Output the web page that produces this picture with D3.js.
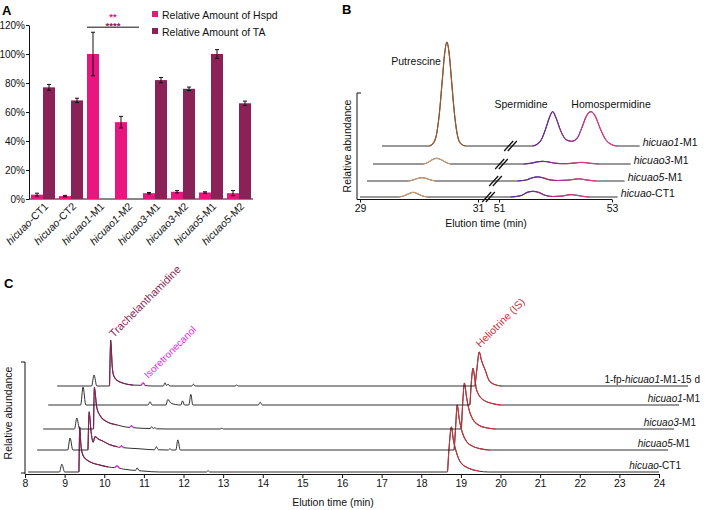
<!DOCTYPE html>
<html>
<head>
<meta charset="utf-8">
<script src="https://cdn.jsdelivr.net/npm/d3@7"></script>
<style>
  body { margin: 0; background: #fff; }
  svg { display: block; }
</style>
</head>
<body>
<svg id="fig" width="709" height="510"></svg>
<script>
// ---------- panel A data ----------
const aGroups = ["hicuao-CT1", "hicuao-CT2", "hicuao1-M1", "hicuao1-M2", "hicuao3-M1", "hicuao3-M2", "hicuao5-M1", "hicuao5-M2"];
const aSeries = ["Relative Amount of Hspd", "Relative Amount of TA"];
const hspdMean = [3, 2, 100, 53, 4, 5, 4.5, 4];
const hspdErr = [1, 0.5, 15, 4, 0.5, 0.8, 0.5, 1.8];
const taMean = [77, 68, 0, 0, 82, 76, 100, 66];
const taErr = [2, 1.5, 0, 0, 1.8, 1.2, 3, 1.5];
const aTicks = [0, 20, 40, 60, 80, 100, 120];

// ---------- panel B data (time in min, relative abundance %) ----------
const bSamples = ["hicuao-CT1", "hicuao5-M1", "hicuao3-M1", "hicuao1-M1"];
const bTicks = [29, 31, 51, 53];
const bCT1 = [[29,0],[29.65,0],[29.74,1],[29.82,3],[29.9,4.5],[29.98,3],[30.06,1],[30.15,0],[51.2,0],[51.4,1.5],[51.5,4.5],[51.6,5.5],[51.7,4.5],[51.82,1.5],[51.95,0.5],[52.1,0.8],[52.2,1.8],[52.28,2.2],[52.36,1.8],[52.46,0.8],[52.6,0],[53.1,0]];
const bM5 = [[29,0],[29.7,0],[29.78,1],[29.86,2.5],[29.93,3.2],[30.0,2.5],[30.08,1],[30.17,0],[51.2,0],[51.36,1],[51.46,3],[51.56,4],[51.66,3],[51.78,1],[51.92,0.5],[52.1,0.8],[52.2,1.6],[52.28,2],[52.36,1.6],[52.46,0.8],[52.6,0],[53.1,0]];
const bM3 = [[29,0],[29.85,0],[29.93,1.5],[30.0,4],[30.08,5.5],[30.16,4],[30.24,1.5],[30.32,0],[51.2,0],[51.34,0.8],[51.44,2],[51.54,2.6],[51.64,2],[51.76,0.8],[51.92,0.3],[52.08,0.8],[52.16,1.3],[52.22,1.5],[52.3,1.3],[52.4,0.6],[52.55,0],[53.1,0]];
const bM1 = [[29,0],[29.8,0],[29.86,2],[29.92,10],[29.97,30],[30.02,62],[30.06,88],[30.1,100],[30.14,88],[30.18,62],[30.23,30],[30.28,10],[30.34,2],[30.42,0],[51.2,0],[51.28,1.5],[51.36,6],[51.44,17],[51.5,27],[51.56,33],[51.62,27],[51.7,15],[51.8,6],[51.9,4.5],[52.0,8],[52.08,18],[52.16,29],[52.24,33],[52.32,28],[52.4,17],[52.5,6],[52.6,1.5],[52.7,0],[53.1,0]];
const bTraces = [bCT1, bM5, bM3, bM1];
const bPutrescine = [29.5, 30.7];
const bPolyamines = [51.1, 52.8];

// ---------- panel C data (time in min, relative abundance %) ----------
const cSamples = ["hicuao-CT1", "hicuao5-M1", "hicuao3-M1", "hicuao1-M1", "1-fp-hicuao1-M1-15 d"];
const cTicks = d3.range(8, 25);
const cCT1 = [[8.08,0],[8.87,0],[8.93,17],[9.0,0],[9.36,0],[9.38,98],[9.41,60],[9.46,37],[9.55,27],[9.64,22],[9.89,15],[10.1,11],[10.26,9.5],[10.32,13],[10.38,8.5],[10.6,5],[10.79,3.5],[10.83,9],[10.88,3],[11.0,2],[11.4,0],[12.58,0],[12.62,3],[12.66,0],[18.66,0],[18.7,50],[18.76,98],[18.81,70],[18.88,45],[19.0,20],[19.2,8],[19.45,2],[19.7,0],[24,0]];
const cM5 = [[8.08,0],[8.85,0],[8.91,26],[8.98,0],[9.36,0],[9.39,83],[9.44,40],[9.49,17],[9.54,29],[9.62,24],[9.72,20],[9.9,12],[10.1,7],[10.16,5.5],[10.21,9],[10.26,5],[10.6,3],[10.9,1],[11.04,0.5],[11.09,7],[11.14,0.5],[11.39,0],[11.43,3],[11.47,0],[11.58,0],[11.63,22],[11.69,0],[18.6,0],[18.64,50],[18.68,98],[18.73,68],[18.81,38],[18.92,18],[19.05,9],[19.25,3],[19.5,0],[24,0]];
const cM3 = [[8.08,0],[8.87,0],[8.93,24],[9.0,0],[9.35,0],[9.37,91],[9.43,48],[9.51,30],[9.68,16],[9.94,9],[10.19,4],[10.26,3.5],[10.31,7],[10.36,3],[10.6,1.5],[10.78,1],[10.82,5],[10.86,1],[10.9,3],[10.94,0.5],[11.2,0],[12.55,0],[12.59,2],[12.63,0],[18.63,0],[18.67,60],[18.71,100],[18.76,72],[18.81,48],[18.93,20],[19.1,7],[19.3,2],[19.5,0],[24,0]];
const cM1 = [[8.08,0],[8.9,0],[8.96,39],[9.03,0],[10.6,0],[10.65,7],[10.7,0],[11.05,0],[11.1,12],[11.18,4],[11.3,1],[11.43,0],[11.47,9],[11.52,0],[11.63,0],[11.68,23],[11.73,0],[13.38,0],[13.43,6],[13.48,0],[18.72,0],[18.76,50],[18.8,80],[18.85,55],[18.89,33],[19.06,11],[19.3,3],[19.5,0],[24,0]];
const cFP = [[8.08,0],[8.95,0],[9.01,24],[9.08,0],[9.4,0],[9.43,100],[9.47,42],[9.5,24],[9.58,13],[9.75,6],[10.0,2],[10.2,1.5],[10.25,7],[10.3,1],[10.5,0],[10.76,0],[10.8,7],[10.84,1],[10.88,4],[10.92,0],[11.48,0],[11.52,4],[11.56,0],[12.57,0],[12.61,2],[12.65,0],[18.62,0],[18.67,35],[18.73,74],[18.79,55],[18.88,35],[18.98,12],[19.1,4],[19.3,0],[24,0]];
const cTraces = [cCT1, cM5, cM3, cM1, cFP];
const cTrachel = [9.3, 10.15];
const cIsoTimes = [10.32, 10.21, 10.31, null, 10.25];
const cHelio = [18.55, 19.5];

// ---------- styling ----------
const FONT = "'Liberation Sans', Arial, Helvetica, sans-serif";
const PINK = "#e8167f", PLUM = "#8a2258";
const TA_COL = "#8c1f55", ISO_COL = "#e22de0", HELIO_COL = "#c8343c";
const BROWN = "#9a5a2c", TAN = "#cf9c72", PURPLE = "#6b2b90", MAGENTA = "#dd3a8c";

const svg = d3.select("#fig").attr("font-family", FONT);

function italicize(sel, str) {
    str.split(/(hicuao\d?)/).filter(s => s.length).forEach(part => {
        sel.append("tspan")
            .attr("font-style", /^hicuao/.test(part) ? "italic" : null)
            .text(part);
    });
}

function styleAxis(g, size) {
    g.attr("font-family", FONT).attr("font-size", size || 10.5);
    g.selectAll("text").attr("fill", "#111");
    g.selectAll("line, path").attr("stroke", "#111");
}

// ===================== PANEL A =====================
const gA = svg.append("g");
const xA = d3.scaleBand().domain(aGroups).range([29, 253]);
const xSub = d3.scaleBand().domain(aSeries).range([2, 26]);
const yA = d3.scaleLinear().domain([0, 120]).range([199, 25]);

gA.append("text").attr("x", 2).attr("y", 15).attr("font-size", 13).attr("font-weight", "bold").text("A");

gA.append("g").attr("transform", "translate(29,0)")
    .call(d3.axisLeft(yA).tickValues(aTicks).tickSize(3).tickSizeOuter(0).tickPadding(1).tickFormat(d => d + "%"))
    .call(g => styleAxis(g, 10));

gA.append("line").attr("x1", 29).attr("x2", 253).attr("y1", yA(0)).attr("y2", yA(0))
    .attr("stroke", "#111");

const aRows = [];
aGroups.forEach((g, i) => {
    aRows.push({ g, s: aSeries[0], v: hspdMean[i], e: hspdErr[i], c: PINK });
    aRows.push({ g, s: aSeries[1], v: taMean[i], e: taErr[i], c: PLUM });
});
const aBars = aRows.filter(d => d.v > 0);

gA.selectAll("rect.bar").data(aBars).enter().append("rect")
    .attr("class", "bar")
    .attr("x", d => xA(d.g) + xSub(d.s))
    .attr("width", xSub.bandwidth())
    .attr("y", d => yA(d.v))
    .attr("height", d => yA(0) - yA(d.v))
    .attr("fill", d => d.c);

const errG = gA.selectAll("g.err").data(aBars).enter().append("g").attr("class", "err")
    .attr("stroke", "#111").attr("stroke-width", 1);
errG.append("line")
    .attr("x1", d => xA(d.g) + xSub(d.s) + xSub.bandwidth() / 2)
    .attr("x2", d => xA(d.g) + xSub(d.s) + xSub.bandwidth() / 2)
    .attr("y1", d => yA(d.v + d.e)).attr("y2", d => yA(Math.max(0, d.v - d.e)));
[1, -1].forEach(sign => {
    errG.append("line")
        .attr("x1", d => xA(d.g) + xSub(d.s) + xSub.bandwidth() / 2 - 2)
        .attr("x2", d => xA(d.g) + xSub(d.s) + xSub.bandwidth() / 2 + 2)
        .attr("y1", d => yA(Math.max(0, d.v + sign * d.e)))
        .attr("y2", d => yA(Math.max(0, d.v + sign * d.e)));
});

// x labels
aGroups.forEach(g => {
    const t = gA.append("text")
        .attr("transform", `translate(${xA(g) + xA.bandwidth() / 2 + 6},207) rotate(-45)`)
        .attr("text-anchor", "end").attr("font-size", 10.5).attr("fill", "#111");
    italicize(t, g);
});

// significance
const sigX1 = xA("hicuao1-M1") + xSub(aSeries[0]);
const sigX2 = xA("hicuao1-M2") + xSub(aSeries[1]) + xSub.bandwidth();
gA.append("line").attr("x1", sigX1).attr("x2", sigX2).attr("y1", yA(118.5)).attr("y2", yA(118.5))
    .attr("stroke", "#111");
gA.append("text").attr("x", (sigX1 + sigX2) / 2).attr("y", 19.5).attr("text-anchor", "middle")
    .attr("font-size", 9.5).attr("font-weight", "bold").attr("fill", PINK).text("**");
gA.append("text").attr("x", (sigX1 + sigX2) / 2).attr("y", 28.5).attr("text-anchor", "middle")
    .attr("font-size", 9.5).attr("font-weight", "bold").attr("fill", PLUM).text("****");

// legend
aSeries.forEach((s, i) => {
    gA.append("rect").attr("x", 152).attr("y", 11 + i * 17).attr("width", 6).attr("height", 6)
        .attr("fill", i === 0 ? PINK : PLUM);
    gA.append("text").attr("x", 162).attr("y", 18.5 + i * 17).attr("font-size", 10.5)
        .attr("fill", "#111").text(s);
});

// ===================== PANEL B =====================
const gB = svg.append("g");
const xB = d3.scaleLinear().domain(bTicks).range([360, 478, 499, 612]);
const yB = d3.scaleLinear().domain([0, 100]).range([0, 104]);
const bDx = [0, 7, 13, 22];
const bBase = [197, 181, 164, 146];

gB.append("text").attr("x", 342).attr("y", 14).attr("font-size", 13).attr("font-weight", "bold").text("B");

const defs = svg.append("defs");

bTraces.forEach((pts, i) => {
    const line = d3.line().curve(d3.curveMonotoneX)
        .x(d => xB(d[0]) + bDx[i])
        .y(d => bBase[i] - yB(d[1]));
    gB.append("path").attr("d", line(pts)).attr("fill", "none").attr("stroke", "#333").attr("stroke-width", 1);
    const put = pts.filter(d => d[0] >= bPutrescine[0] && d[0] <= bPutrescine[1]);
    gB.append("path").attr("d", line(put)).attr("fill", "none")
        .attr("stroke", i === 3 ? BROWN : TAN).attr("stroke-width", 1.2);
    const grad = defs.append("linearGradient").attr("id", "pg" + i)
        .attr("gradientUnits", "userSpaceOnUse")
        .attr("x1", xB(51.5) + bDx[i]).attr("x2", xB(52.3) + bDx[i]).attr("y1", 0).attr("y2", 0);
    grad.append("stop").attr("offset", "0%").attr("stop-color", PURPLE);
    grad.append("stop").attr("offset", "100%").attr("stop-color", MAGENTA);
    const poly = pts.filter(d => d[0] >= bPolyamines[0] && d[0] <= bPolyamines[1]);
    gB.append("path").attr("d", line(poly)).attr("fill", "none")
        .attr("stroke", `url(#pg${i})`).attr("stroke-width", 1.2);

    // axis break marks
    const bx = xB(41) + bDx[i], by = bBase[i];
    [-1.8, 1.8].forEach(o => {
        gB.append("line").attr("x1", bx + o - 4.5).attr("y1", by + 5).attr("x2", bx + o + 4.5).attr("y2", by - 5)
            .attr("stroke", "#111").attr("stroke-width", 1.3);
    });

    const last = pts[pts.length - 1];
    const t = gB.append("text").attr("x", xB(last[0]) + bDx[i] + 3).attr("y", bBase[i] - 0.5)
        .attr("font-size", 10.5).attr("fill", "#111");
    italicize(t, bSamples[i]);
});

// peak labels
const putTop = bM1.reduce((a, b) => (b[1] > a[1] ? b : a));
gB.append("text").attr("x", xB(putTop[0]) + bDx[3] - 6).attr("y", bBase[3] - yB(putTop[1]) + 23)
    .attr("text-anchor", "end").attr("font-size", 10.5).attr("fill", "#111").text("Putrescine");
const spd = bM1.filter(d => d[0] > 51 && d[0] < 51.9).reduce((a, b) => (b[1] > a[1] ? b : a));
gB.append("text").attr("x", xB(spd[0]) + bDx[3] - 5).attr("y", bBase[3] - yB(spd[1]) - 4)
    .attr("text-anchor", "end").attr("font-size", 10.5).attr("fill", "#111").text("Spermidine");
const hspd = bM1.filter(d => d[0] > 51.9).reduce((a, b) => (b[1] > a[1] ? b : a));
gB.append("text").attr("x", xB(hspd[0]) + bDx[3] + 20).attr("y", bBase[3] - yB(hspd[1]) - 4)
    .attr("text-anchor", "middle").attr("font-size", 10.5).attr("fill", "#111").text("Homospermidine");

// axes
gB.append("line").attr("x1", 357).attr("x2", 357).attr("y1", 93).attr("y2", 199.5).attr("stroke", "#111");
gB.append("line").attr("x1", 357).attr("x2", 361).attr("y1", 93).attr("y2", 93).attr("stroke", "#111");
gB.append("g").attr("transform", "translate(0,199.5)")
    .call(d3.axisBottom(xB).tickValues(bTicks).tickSize(3).tickSizeOuter(0).tickPadding(2))
    .call(g => styleAxis(g, 10.5))
    .call(g => g.select(".domain").remove());
gB.append("line").attr("x1", 357).attr("x2", xB(53)).attr("y1", 199.5).attr("y2", 199.5).attr("stroke", "#111");
gB.append("text").attr("transform", "translate(351,146) rotate(-90)").attr("text-anchor", "middle")
    .attr("font-size", 10.5).attr("fill", "#111").text("Relative abundance");
gB.append("text").attr("x", (xB(29) + xB(53)) / 2).attr("y", 227).attr("text-anchor", "middle")
    .attr("font-size", 10.5).attr("fill", "#111").text("Elution time (min)");

// ===================== PANEL C =====================
const gC = svg.append("g");
const xC = d3.scaleLinear().domain([8, 24]).range([25, 659]);
const yC = d3.scaleLinear().domain([0, 100]).range([0, 46]);
const cDx = [0, 9, 15, 20, 29];
const cBase = [472, 450, 429, 405, 386];

gC.append("text").attr("x", 4).attr("y", 288).attr("font-size", 13).attr("font-weight", "bold").text("C");

cTraces.forEach((pts, i) => {
    const line = d3.line().curve(d3.curveMonotoneX)
        .x(d => xC(d[0]) + cDx[i])
        .y(d => cBase[i] - yC(d[1]));
    gC.append("path").attr("d", line(pts)).attr("fill", "none").attr("stroke", "#1a1a1a").attr("stroke-width", 0.9);

    const ta = pts.filter(d => d[0] >= cTrachel[0] && d[0] <= cTrachel[1]);
    if (d3.max(ta, d => d[1]) > 5) {
        gC.append("path").attr("d", line(ta)).attr("fill", "none").attr("stroke", TA_COL).attr("stroke-width", 1.1);
    }
    if (cIsoTimes[i] !== null) {
        const iso = pts.filter(d => Math.abs(d[0] - cIsoTimes[i]) <= 0.07);
        gC.append("path").attr("d", line(iso)).attr("fill", "none").attr("stroke", ISO_COL).attr("stroke-width", 1.3);
    }
    const he = pts.filter(d => d[0] >= cHelio[0] && d[0] <= cHelio[1]);
    gC.append("path").attr("d", line(he)).attr("fill", "none").attr("stroke", HELIO_COL).attr("stroke-width", 1.1);

    const last = pts[pts.length - 1];
    const t = gC.append("text").attr("x", Math.min(xC(last[0]) + cDx[i] + 22, 700)).attr("y", cBase[i] - 3)
        .attr("text-anchor", "end").attr("font-size", 10).attr("fill", "#111");
    italicize(t, cSamples[i]);
});

// compound labels on the top trace
const topI = cTraces.length - 1;
const taTop = cFP.filter(d => d[0] > 9.2 && d[0] < 10).reduce((a, b) => (b[1] > a[1] ? b : a));
gC.append("text")
    .attr("transform", `translate(${xC(taTop[0]) + cDx[topI] + 3},${cBase[topI] - yC(taTop[1]) - 2}) rotate(-45)`)
    .attr("font-size", 11).attr("fill", TA_COL).text("Trachelanthamidine");
gC.append("text")
    .attr("transform", `translate(${xC(cIsoTimes[topI]) + cDx[topI] + 5},${cBase[topI] - 7}) rotate(-45)`)
    .attr("font-size", 10).attr("fill", ISO_COL).text("Isoretronecanol");
const heTop = cFP.filter(d => d[0] > 18).reduce((a, b) => (b[1] > a[1] ? b : a));
gC.append("text")
    .attr("transform", `translate(${xC(heTop[0]) + cDx[topI] + 1},${cBase[topI] - yC(heTop[1]) - 4}) rotate(-45)`)
    .attr("font-size", 10.5).attr("fill", HELIO_COL).text("Heliotrine (IS)");

// axes
gC.append("g").attr("transform", "translate(0,474)")
    .call(d3.axisBottom(xC).tickValues(cTicks).tickSize(4).tickSizeOuter(0).tickPadding(2))
    .call(g => styleAxis(g, 10.5));
gC.append("line").attr("x1", 25).attr("x2", 25).attr("y1", 362).attr("y2", 474).attr("stroke", "#111");
gC.append("line").attr("x1", 21).attr("x2", 25).attr("y1", 362).attr("y2", 362).attr("stroke", "#111");
gC.append("line").attr("x1", 21).attr("x2", 25).attr("y1", 473).attr("y2", 473).attr("stroke", "#111");
gC.append("text").attr("transform", "translate(12,413) rotate(-90)").attr("text-anchor", "middle")
    .attr("font-size", 10.5).attr("fill", "#111").text("Relative abundance");
gC.append("text").attr("x", 333).attr("y", 506).attr("text-anchor", "middle")
    .attr("font-size", 10.5).attr("fill", "#111").text("Elution time (min)");
</script>
</body>
</html>
